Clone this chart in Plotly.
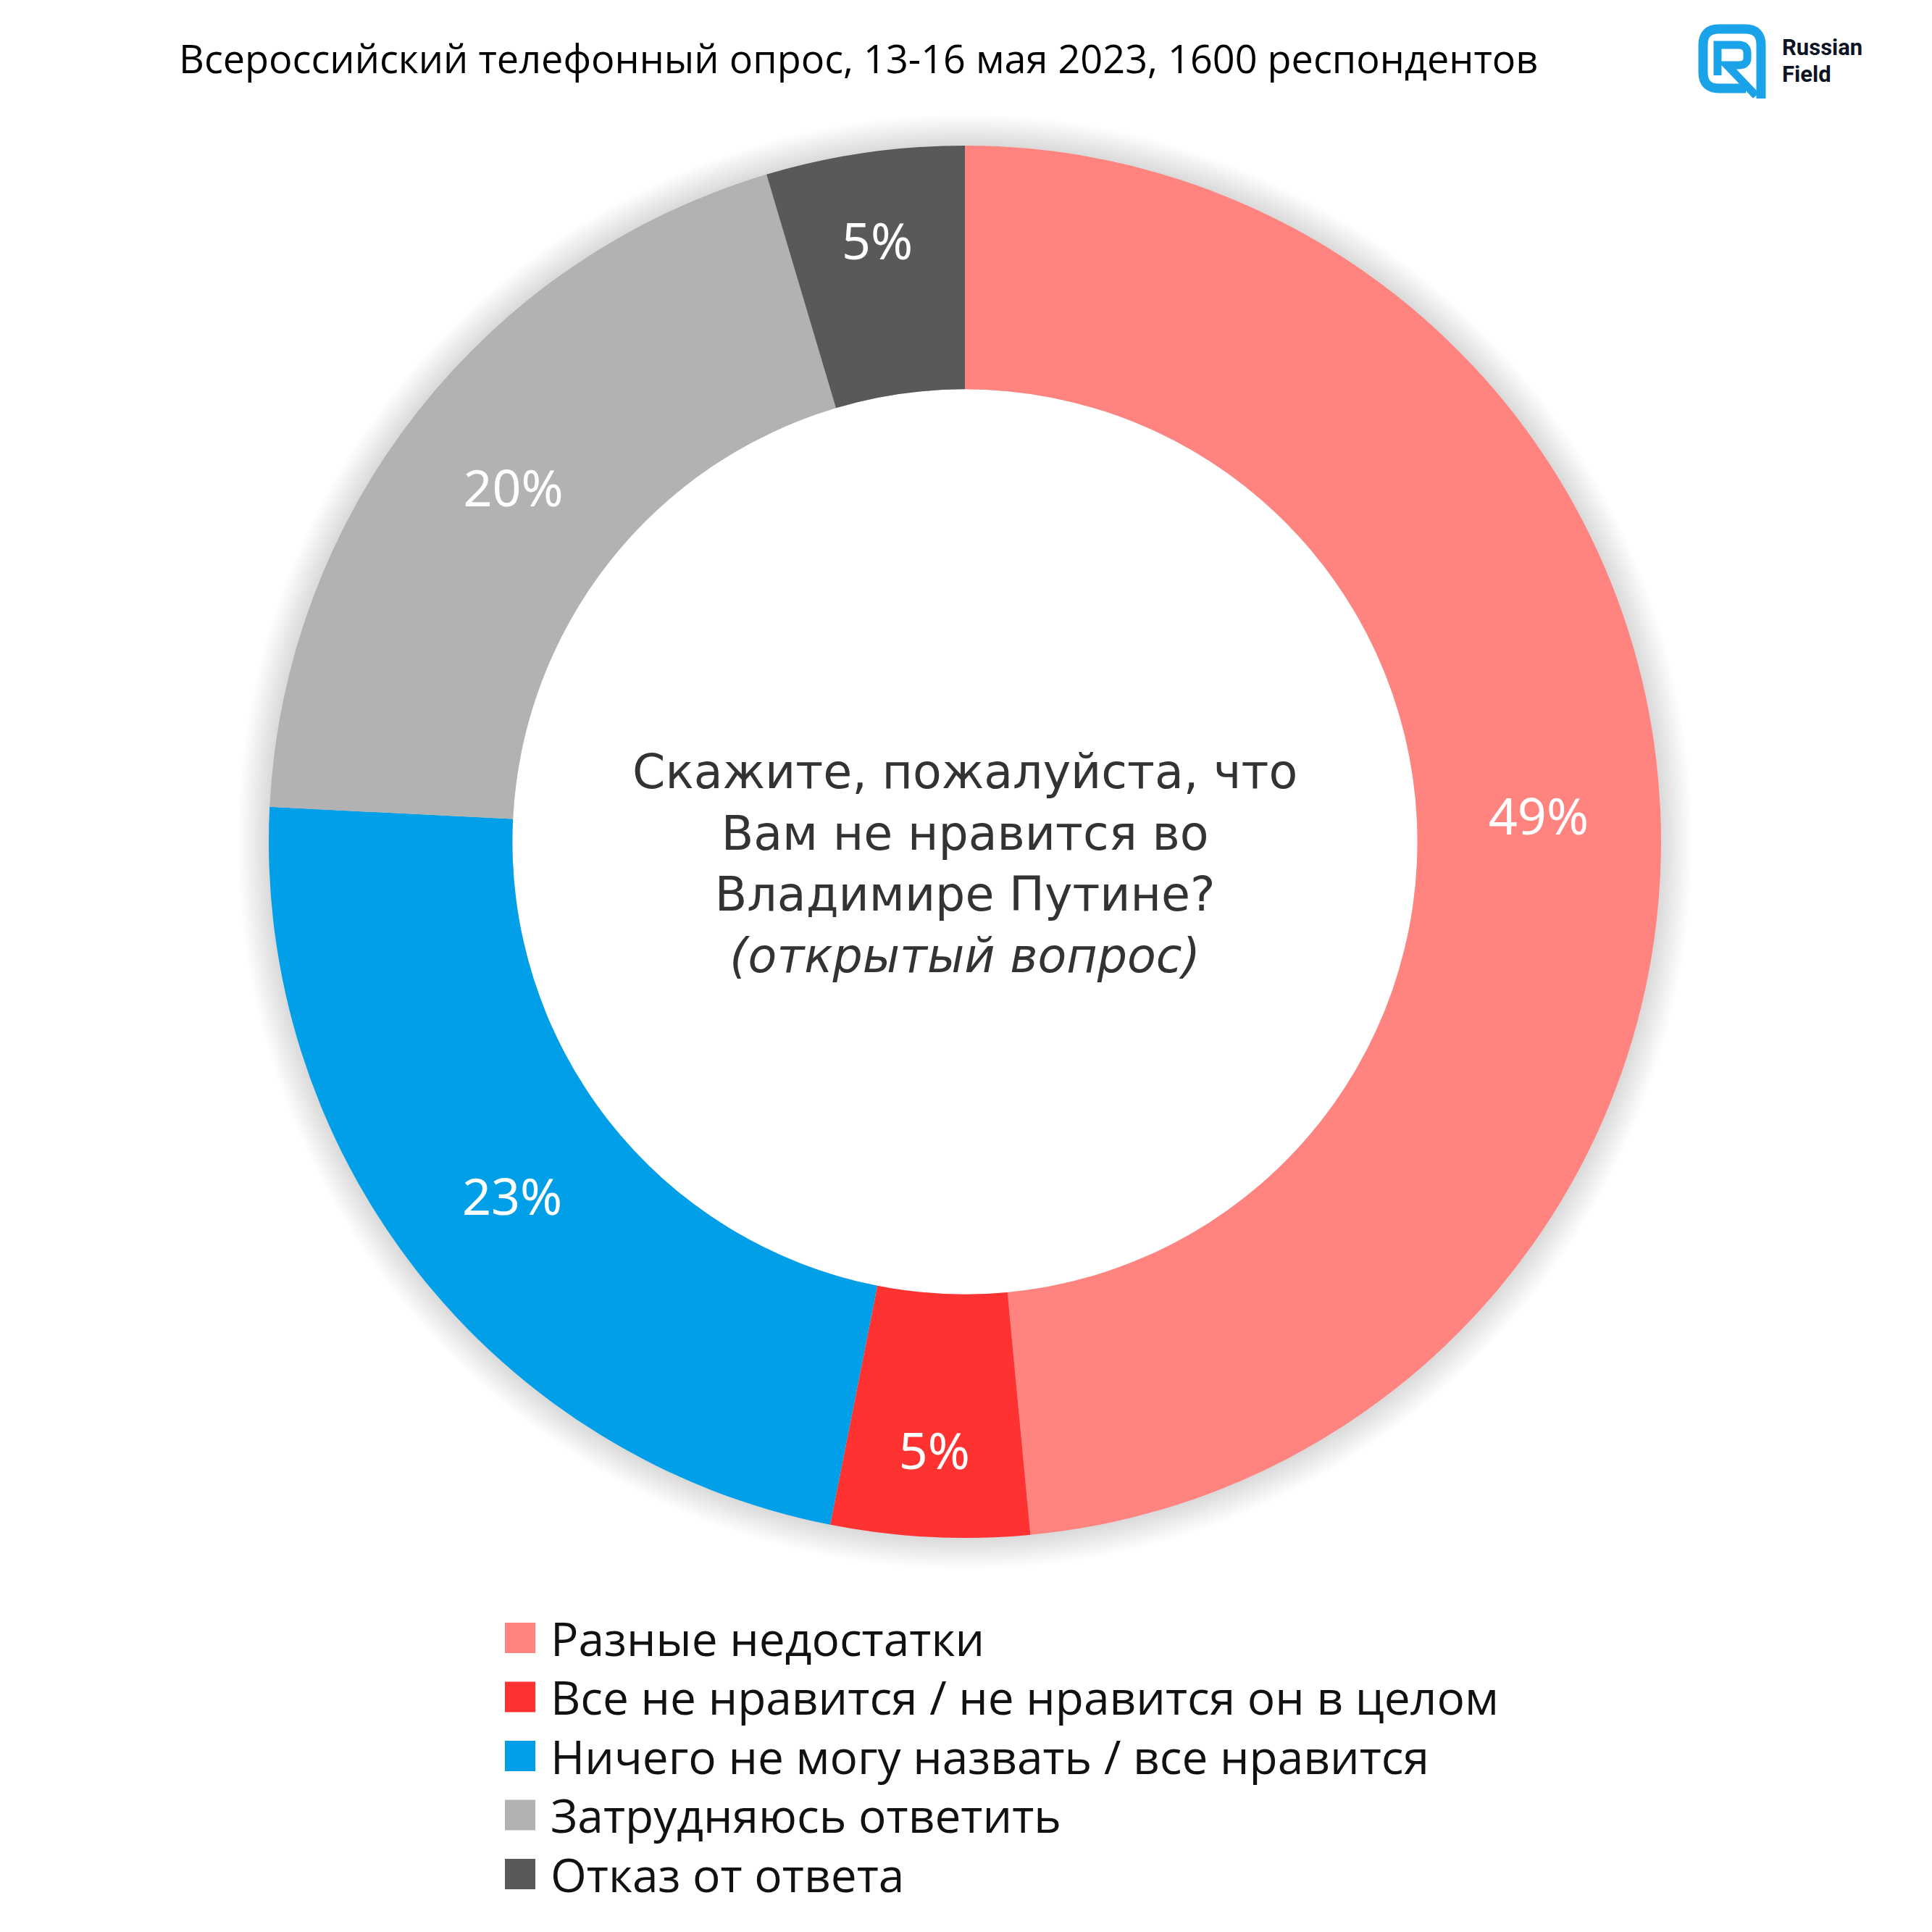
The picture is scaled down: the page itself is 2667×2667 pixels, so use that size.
import plotly.graph_objects as go

# ---------------- data ----------------
categories = [
    "Разные недостатки",
    "Все не нравится / не нравится он в целом",
    "Ничего не могу назвать / все нравится",
    "Затрудняюсь ответить",
    "Отказ от ответа",
]
values = [48.5, 4.6, 22.7, 19.6, 4.6]
colors = ["#FF837F", "#FF3232", "#009FE8", "#B2B2B2", "#595959"]

title_text = "Всероссийский телефонный опрос, 13-16 мая 2023, 1600 респондентов"
center_lines = [
    "Скажите, пожалуйста, что",
    "Вам не нравится во",
    "Владимире Путине?",
    "<i>(открытый вопрос)</i>",
]

# ---------------- layout helpers ----------------
W = H = 2667
def px(x):
    return x / W
def py(y):
    return 1 - y / H

cx, cy, R = 1332, 1162, 961  # donut centre / radius in pixels
HOLE = 0.65

fig = go.Figure()

fig.add_trace(go.Pie(
    labels=categories,
    values=values,
    sort=False,
    direction="clockwise",
    rotation=0,
    hole=HOLE,
    marker=dict(colors=colors, line=dict(width=0)),
    texttemplate="%{value:.0f}%",
    textinfo="text",
    textposition="inside",
    insidetextorientation="horizontal",
    textfont=dict(family="Noto Sans", size=70, color="white"),
    hoverinfo="label+value",
    showlegend=False,
    domain=dict(x=[px(cx - R), px(cx + R)], y=[py(cy + R), py(cy - R)]),
))

shapes = []
# soft shadow around the ring
for k in range(12, 0, -1):
    r = R + 3.5 * k
    shapes.append(dict(
        type="circle", xref="paper", yref="paper", layer="below",
        x0=px(cx - r), x1=px(cx + r), y0=py(cy + r), y1=py(cy - r),
        fillcolor="rgba(0,0,0,0.012)", line=dict(width=0),
    ))
# keep the hole white
rh = R * HOLE
shapes.append(dict(
    type="circle", xref="paper", yref="paper", layer="below",
    x0=px(cx - rh), x1=px(cx + rh), y0=py(cy + rh), y1=py(cy - rh),
    fillcolor="white", line=dict(width=0),
))

annotations = []
# title
annotations.append(dict(
    text=title_text, x=px(1185), y=py(80), xref="paper", yref="paper",
    xanchor="center", yanchor="middle", showarrow=False,
    font=dict(family="Open Sans", size=54, color="#000000"),
))
# centre question (one multi-line text block)
annotations.append(dict(
    text="<br>".join(center_lines), x=px(cx), y=py(1192), xref="paper", yref="paper",
    xanchor="center", yanchor="middle", align="center", showarrow=False,
    font=dict(family="DejaVu Sans", size=65, color="#333333"),
))

# custom legend (large squares)
leg_top, leg_step, sq = 2261, 81.5, 42
for i, (lab, col) in enumerate(zip(categories, colors)):
    yc = leg_top + leg_step * i
    shapes.append(dict(
        type="rect", xref="paper", yref="paper",
        x0=px(697), x1=px(697 + sq), y0=py(yc + sq / 2), y1=py(yc - sq / 2),
        fillcolor=col, line=dict(width=0),
    ))
    annotations.append(dict(
        text=lab, x=px(758), y=py(yc), xref="paper", yref="paper",
        xanchor="left", yanchor="middle", showarrow=False,
        font=dict(family="Open Sans", size=64, color="#111111"),
    ))

# logo
logo_blue = "#1AA3E8"
x0l, x1l, y0l, y1l, rr = 2351, 2431, 40, 122, 22
outer = (
    f"M{px(2410):.5f},{py(y1l):.5f} "
    f"L{px(x0l+rr):.5f},{py(y1l):.5f} Q{px(x0l):.5f},{py(y1l):.5f} {px(x0l):.5f},{py(y1l-rr):.5f} "
    f"L{px(x0l):.5f},{py(y0l+rr):.5f} Q{px(x0l):.5f},{py(y0l):.5f} {px(x0l+rr):.5f},{py(y0l):.5f} "
    f"L{px(x1l-rr):.5f},{py(y0l):.5f} Q{px(x1l):.5f},{py(y0l):.5f} {px(x1l):.5f},{py(y0l+rr):.5f} "
    f"L{px(x1l):.5f},{py(y1l+14):.5f}"
)
shapes.append(dict(type="path", xref="paper", yref="paper", path=outer,
                   line=dict(color=logo_blue, width=13)))
inner = (
    f"M{px(2371):.5f},{py(104):.5f} L{px(2371):.5f},{py(62):.5f} "
    f"L{px(2400):.5f},{py(62):.5f} Q{px(2412):.5f},{py(62):.5f} {px(2412):.5f},{py(74):.5f} "
    f"L{px(2412):.5f},{py(80):.5f} Q{px(2412):.5f},{py(90):.5f} {px(2400):.5f},{py(90):.5f} "
    f"L{px(2384):.5f},{py(90):.5f} L{px(2424):.5f},{py(132):.5f}"
)
shapes.append(dict(type="path", xref="paper", yref="paper", path=inner,
                   line=dict(color=logo_blue, width=11)))
annotations.append(dict(
    text="<b>Russian</b>", x=px(2458), y=py(65), xref="paper", yref="paper",
    xanchor="left", yanchor="middle", showarrow=False,
    font=dict(family="Roboto", size=31, color="#0F1424"),
))
annotations.append(dict(
    text="<b>Field</b>", x=px(2458), y=py(103), xref="paper", yref="paper",
    xanchor="left", yanchor="middle", showarrow=False,
    font=dict(family="Roboto", size=31, color="#0F1424"),
))

fig.update_layout(
    width=W, height=H,
    margin=dict(l=0, r=0, t=0, b=0),
    paper_bgcolor="white", plot_bgcolor="white",
    shapes=shapes, annotations=annotations,
    showlegend=False,
)

fig.write_html("out.html")
